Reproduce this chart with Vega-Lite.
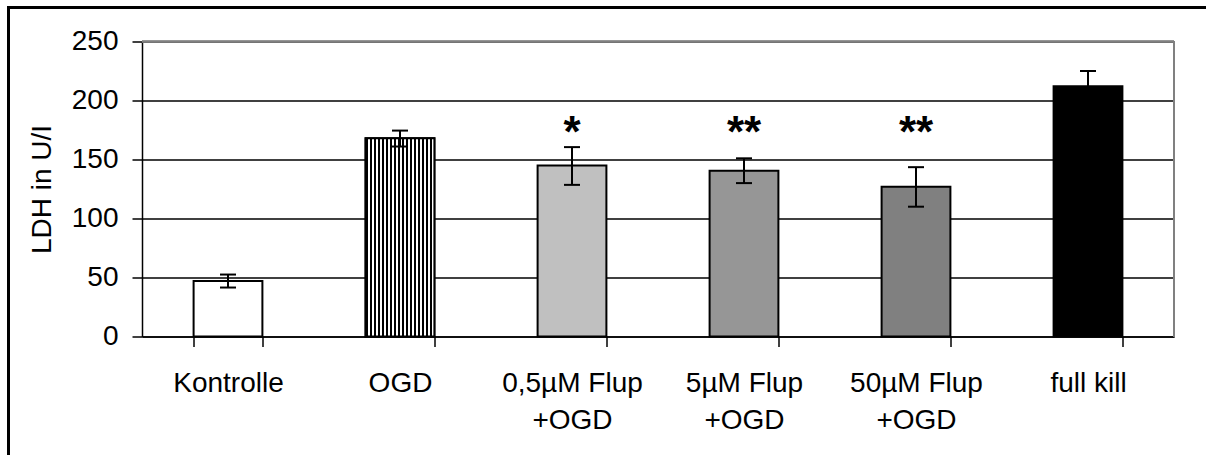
{
  "$schema": "https://vega.github.io/schema/vega-lite/v6.json",
  "width": 1210,
  "height": 460,
  "autosize": "none",
  "padding": {"left": 8.5, "top": 7.5, "right": 0, "bottom": 0},
  "background": "white",
  "config": {
    "font": "Liberation Sans",
    "view": {"stroke": "black", "strokeWidth": 3, "fill": "white"}
  },
  "data": {
    "values": [
      {"cat": "Kontrolle", "mean": 47, "lo": 41.5, "hi": 52.5, "sig": ""},
      {"cat": "OGD", "mean": 168, "lo": 161, "hi": 174.5, "sig": ""},
      {"cat": "0,5µM Flup\n+OGD", "mean": 145, "lo": 128.5, "hi": 160.5, "sig": "*"},
      {"cat": "5µM Flup\n+OGD", "mean": 140.5, "lo": 130, "hi": 151, "sig": "**"},
      {"cat": "50µM Flup\n+OGD", "mean": 127, "lo": 110, "hi": 143.5, "sig": "**"},
      {"cat": "full kill", "mean": 212, "lo": 199, "hi": 225, "sig": ""}
    ]
  },
  "encoding": {
    "x": {
      "field": "cat",
      "type": "nominal",
      "sort": null,
      "scale": {"range": [133.5, 1165.5], "paddingInner": 0.6, "paddingOuter": 0.3},
      "axis": {
        "orient": "bottom",
        "offset": -131,
        "title": null,
        "labelAngle": 0,
        "labelFontSize": 28,
        "labelColor": "black",
        "labelLineHeight": 37,
        "labelPadding": 23,
        "labelLimit": 300,
        "labelExpr": "split(datum.label, '\\n')",
        "tickBand": "extent",
        "tickSize": 10,
        "tickColor": "black",
        "tickWidth": 1.5,
        "domainColor": "black",
        "domainWidth": 1.5,
        "grid": false
      }
    }
  },
  "layer": [
    {
      "mark": {"type": "bar", "stroke": "black", "strokeWidth": 2},
      "encoding": {
        "y": {
          "field": "mean",
          "type": "quantitative",
          "title": "LDH in U/I",
          "scale": {"domain": [0, 250], "range": [329, 34], "nice": false, "zero": true},
          "axis": {
            "orient": "left",
            "offset": -133.5,
            "title": "LDH in U/I",
            "titleFontSize": 28,
            "titleFontWeight": "normal",
            "titleColor": "black",
            "titlePadding": 15,
            "values": [0, 50, 100, 150, 200, 250],
            "labelFontSize": 28,
            "labelColor": "black",
            "labelPadding": 14,
            "tickSize": 10,
            "tickColor": "black",
            "tickWidth": 1.5,
            "domainColor": "black",
            "domainWidth": 1.5,
            "grid": true,
            "gridColor": "#000000",
            "gridOpacity": 1,
            "gridWidth": 1.5
          }
        },
        "color": {
          "field": "cat",
          "type": "nominal",
          "sort": null,
          "scale": {
            "domain": ["Kontrolle", "OGD", "0,5µM Flup\n+OGD", "5µM Flup\n+OGD", "50µM Flup\n+OGD", "full kill"],
            "range": ["#ffffff", "#7a7a7a", "#c0c0c0", "#969696", "#808080", "#000000"]
          },
          "legend": null
        }
      }
    },
    {
      "transform": [{"filter": "datum.cat === 'OGD'"}],
      "mark": {
        "type": "bar",
        "stroke": "black",
        "strokeWidth": 2,
        "fill": {
          "gradient": "linear",
          "x1": 0, "y1": 0, "x2": 1, "y2": 0,
          "stops": [
            {"offset": 0, "color": "#000000"}, {"offset": 0.0294, "color": "#000000"},
            {"offset": 0.0294, "color": "#ffffff"}, {"offset": 0.0588, "color": "#ffffff"},
            {"offset": 0.0588, "color": "#000000"}, {"offset": 0.0882, "color": "#000000"},
            {"offset": 0.0882, "color": "#ffffff"}, {"offset": 0.1176, "color": "#ffffff"},
            {"offset": 0.1176, "color": "#000000"}, {"offset": 0.1471, "color": "#000000"},
            {"offset": 0.1471, "color": "#ffffff"}, {"offset": 0.1765, "color": "#ffffff"},
            {"offset": 0.1765, "color": "#000000"}, {"offset": 0.2059, "color": "#000000"},
            {"offset": 0.2059, "color": "#ffffff"}, {"offset": 0.2353, "color": "#ffffff"},
            {"offset": 0.2353, "color": "#000000"}, {"offset": 0.2647, "color": "#000000"},
            {"offset": 0.2647, "color": "#ffffff"}, {"offset": 0.2941, "color": "#ffffff"},
            {"offset": 0.2941, "color": "#000000"}, {"offset": 0.3235, "color": "#000000"},
            {"offset": 0.3235, "color": "#ffffff"}, {"offset": 0.3529, "color": "#ffffff"},
            {"offset": 0.3529, "color": "#000000"}, {"offset": 0.3824, "color": "#000000"},
            {"offset": 0.3824, "color": "#ffffff"}, {"offset": 0.4118, "color": "#ffffff"},
            {"offset": 0.4118, "color": "#000000"}, {"offset": 0.4412, "color": "#000000"},
            {"offset": 0.4412, "color": "#ffffff"}, {"offset": 0.4706, "color": "#ffffff"},
            {"offset": 0.4706, "color": "#000000"}, {"offset": 0.5, "color": "#000000"},
            {"offset": 0.5, "color": "#ffffff"}, {"offset": 0.5294, "color": "#ffffff"},
            {"offset": 0.5294, "color": "#000000"}, {"offset": 0.5588, "color": "#000000"},
            {"offset": 0.5588, "color": "#ffffff"}, {"offset": 0.5882, "color": "#ffffff"},
            {"offset": 0.5882, "color": "#000000"}, {"offset": 0.6176, "color": "#000000"},
            {"offset": 0.6176, "color": "#ffffff"}, {"offset": 0.6471, "color": "#ffffff"},
            {"offset": 0.6471, "color": "#000000"}, {"offset": 0.6765, "color": "#000000"},
            {"offset": 0.6765, "color": "#ffffff"}, {"offset": 0.7059, "color": "#ffffff"},
            {"offset": 0.7059, "color": "#000000"}, {"offset": 0.7353, "color": "#000000"},
            {"offset": 0.7353, "color": "#ffffff"}, {"offset": 0.7647, "color": "#ffffff"},
            {"offset": 0.7647, "color": "#000000"}, {"offset": 0.7941, "color": "#000000"},
            {"offset": 0.7941, "color": "#ffffff"}, {"offset": 0.8235, "color": "#ffffff"},
            {"offset": 0.8235, "color": "#000000"}, {"offset": 0.8529, "color": "#000000"},
            {"offset": 0.8529, "color": "#ffffff"}, {"offset": 0.8824, "color": "#ffffff"},
            {"offset": 0.8824, "color": "#000000"}, {"offset": 0.9118, "color": "#000000"},
            {"offset": 0.9118, "color": "#ffffff"}, {"offset": 0.9412, "color": "#ffffff"},
            {"offset": 0.9412, "color": "#000000"}, {"offset": 0.9706, "color": "#000000"},
            {"offset": 0.9706, "color": "#ffffff"}, {"offset": 1, "color": "#ffffff"}
          ]
        }
      },
      "encoding": {
        "y": {
          "field": "mean",
          "type": "quantitative",
          "title": "LDH in U/I",
          "scale": {"domain": [0, 250], "range": [329, 34], "nice": false, "zero": true}
        }
      }
    },
    {
      "mark": {"type": "rule", "strokeWidth": 2, "color": "black"},
      "encoding": {
        "y": {
          "field": "lo",
          "type": "quantitative",
          "title": "LDH in U/I",
          "scale": {"domain": [0, 250], "range": [329, 34], "nice": false, "zero": true}
        },
        "y2": {"field": "hi"}
      }
    },
    {
      "mark": {"type": "tick", "size": 16, "thickness": 2, "color": "black", "opacity": 1},
      "encoding": {
        "y": {
          "field": "lo",
          "type": "quantitative",
          "title": "LDH in U/I",
          "scale": {"domain": [0, 250], "range": [329, 34], "nice": false, "zero": true}
        }
      }
    },
    {
      "mark": {"type": "tick", "size": 16, "thickness": 2, "color": "black", "opacity": 1},
      "encoding": {
        "y": {
          "field": "hi",
          "type": "quantitative",
          "title": "LDH in U/I",
          "scale": {"domain": [0, 250], "range": [329, 34], "nice": false, "zero": true}
        }
      }
    },
    {
      "mark": {"type": "text", "fontSize": 44, "fontWeight": "bold", "baseline": "middle", "align": "center", "color": "black"},
      "encoding": {
        "y": {
          "datum": 172,
          "type": "quantitative",
          "title": "LDH in U/I",
          "scale": {"domain": [0, 250], "range": [329, 34], "nice": false, "zero": true}
        },
        "text": {"field": "sig"}
      }
    },
    {
      "mark": {"type": "rule", "strokeWidth": 1.5, "color": "#808080"},
      "encoding": {
        "x": {"datum": "Kontrolle", "bandPosition": -0.75},
        "x2": {"datum": "full kill", "bandPosition": 1.75},
        "y": {
          "datum": 250,
          "type": "quantitative",
          "title": "LDH in U/I",
          "scale": {"domain": [0, 250], "range": [329, 34], "nice": false, "zero": true}
        }
      }
    },
    {
      "mark": {"type": "rule", "strokeWidth": 1.5, "color": "#808080"},
      "encoding": {
        "x": {"datum": "full kill", "bandPosition": 1.75},
        "y": {
          "datum": 0,
          "type": "quantitative",
          "title": "LDH in U/I",
          "scale": {"domain": [0, 250], "range": [329, 34], "nice": false, "zero": true}
        },
        "y2": {"datum": 250}
      }
    }
  ]
}
